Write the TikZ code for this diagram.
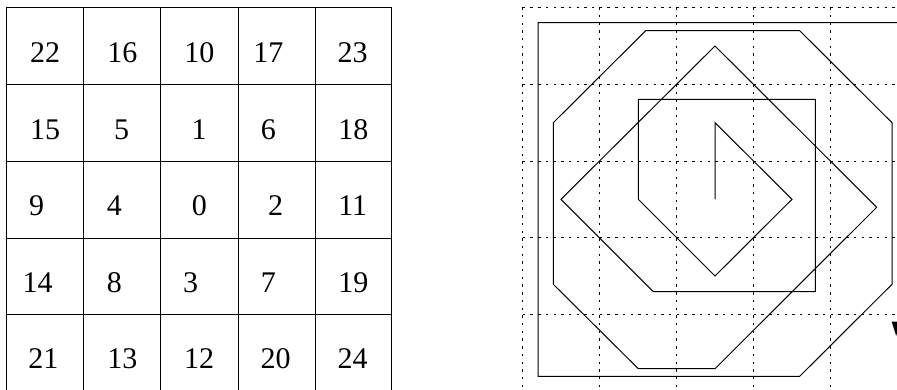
\documentclass[tikz,border=0pt]{standalone}
\usepackage{fontspec}
\setmainfont{Liberation Serif}
\begin{document}
\begin{tikzpicture}[x=1pt,y=-1pt,
  gridline/.style={line width=0.9pt,black},
  dotline/.style={line width=1pt,black,dash pattern=on 2.4pt off 5.3pt},
  spiral/.style={line width=1pt,black,line join=miter},
  num/.style={font=\fontsize{30}{30}\selectfont,anchor=base,inner sep=0pt}]
\useasboundingbox (0,0) rectangle (897,390);
\clip (0,0) rectangle (897,390);
% left table
\foreach \x in {6.7,83.7,160.7,238,315,391.7}
  \draw[gridline] (\x,7.3) -- (\x,395);
\foreach \y in {7.3,84.3,161.3,238,314.7}
  \draw[gridline] (6.7,\y) -- (391.7,\y);
% numbers
\node[num] (n22) at (45,62.3) {22};
\node[num] (n16) at (122.3,62.3) {16};
\node[num] (n10) at (199.3,62.3) {10};
\node[num] (n17) at (268.3,62.3) {17};
\node[num] (n23) at (352.7,62.3) {23};
\node[num] (n15) at (45,139.6) {15};
\node[num] (n5) at (121.7,139.6) {5};
\node[num] (n1) at (199,139.6) {1};
\node[num] (n6) at (268.3,139.6) {6};
\node[num] (n18) at (353.3,139.6) {18};
\node[num] (n9) at (36.7,215.3) {9};
\node[num] (n4) at (114.3,215.3) {4};
\node[num] (n0) at (199.3,215.3) {0};
\node[num] (n2) at (275.7,215.3) {2};
\node[num] (n11) at (352.7,215.3) {11};
\node[num] (n14) at (37.7,292) {14};
\node[num] (n8) at (114.3,292) {8};
\node[num] (n3) at (190.7,292) {3};
\node[num] (n7) at (268.3,292) {7};
\node[num] (n19) at (353.3,292) {19};
\node[num] (n21) at (43.3,368.6) {21};
\node[num] (n13) at (122.3,368.6) {13};
\node[num] (n12) at (199,368.6) {12};
\node[num] (n20) at (275.7,368.6) {20};
\node[num] (n24) at (352.7,368.6) {24};
% right dotted grid
\foreach \x in {522.7,599.5,676.5,753.6,830.7}
  \draw[dotline] (\x,7.3) -- (\x,395);
\foreach \y in {7.3,84.3,161.3,238,314.7}
  \draw[dotline] (522.7,\y) -- (900,\y);
% spiral
\coordinate (p0) at (715,199.3);
\coordinate (p1) at (715,122.7);
\coordinate (p2) at (792,199.3);
\coordinate (p3) at (715,276);
\coordinate (p4) at (638.3,199.3);
\coordinate (p5) at (638.3,99.3);
\coordinate (p6) at (815.3,99.3);
\coordinate (p7) at (815.3,291.7);
\coordinate (p8) at (653.3,291.7);
\coordinate (p9) at (561,199.3);
\coordinate (p10) at (715,46);
\coordinate (p11) at (876.7,207.3);
\coordinate (p12) at (715,368.7);
\coordinate (p13) at (638.3,368.7);
\coordinate (p14) at (553.3,284.3);
\coordinate (p15) at (553.3,122.7);
\coordinate (p16) at (645.7,30.7);
\coordinate (p17) at (799.7,30.7);
\coordinate (p18) at (892,122.7);
\coordinate (p19) at (892,284.3);
\coordinate (p20) at (799.7,376.3);
\coordinate (p21) at (538,376.3);
\coordinate (p22) at (538,22.7);
\coordinate (p23) at (905,22.7);
\draw[spiral] (p0) -- (p1) -- (p2) -- (p3) -- (p4) -- (p5) -- (p6) -- (p7) -- (p8)
  -- (p9) -- (p10) -- (p11) -- (p12) -- (p13) -- (p14) -- (p15) -- (p16) -- (p17)
  -- (p18) -- (p19) -- (p20) -- (p21) -- (p22) -- (p23);
% clipped wedge at right edge
\fill[black] (891.7,321.7) -- (900,321.7) -- (896.2,336) -- cycle;
\end{tikzpicture}
\end{document}
